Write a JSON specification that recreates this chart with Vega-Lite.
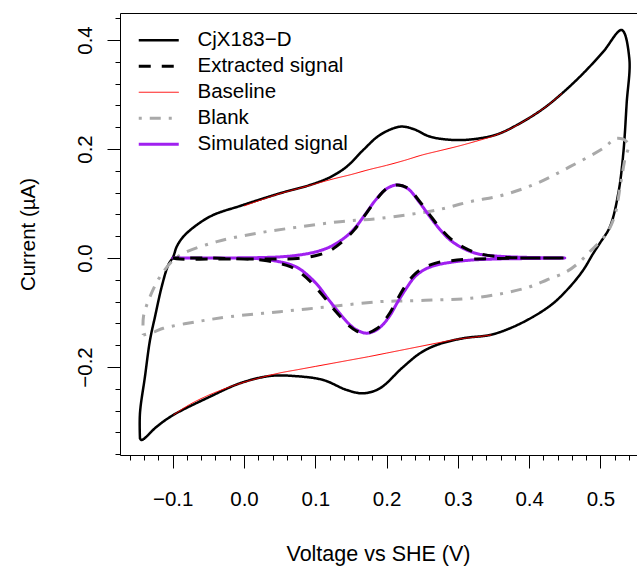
{
  "$schema": "https://vega.github.io/schema/vega-lite/v6.json",
  "width": 517,
  "height": 442,
  "autosize": {"type": "none"},
  "padding": {"left": 120, "top": 13, "right": 0, "bottom": 111},
  "background": "white",
  "config": {
    "font": "Liberation Sans",
    "view": {"stroke": null},
    "axis": {"grid": false, "domainColor": "black", "tickColor": "black", "labelColor": "black", "titleColor": "black", "labelFont": "Liberation Sans", "titleFont": "Liberation Sans", "titleFontWeight": "normal", "domainWidth": 1, "tickWidth": 1}
  },
  "data": {"values": [
    {"s":"CjX183−D","g":"a","i":1,"v":-0.1459,"c":-0.331},
    {"s":"CjX183−D","g":"a","i":2,"v":-0.1459,"c":-0.285},
    {"s":"CjX183−D","g":"a","i":3,"v":-0.1389,"c":-0.2178},
    {"s":"CjX183−D","g":"a","i":4,"v":-0.1318,"c":-0.1505},
    {"s":"CjX183−D","g":"a","i":5,"v":-0.1248,"c":-0.1077},
    {"s":"CjX183−D","g":"a","i":6,"v":-0.1154,"c":-0.0527},
    {"s":"CjX183−D","g":"a","i":7,"v":-0.1062,"c":-0.0128},
    {"s":"CjX183−D","g":"a","i":8,"v":-0.0992,"c":0.0024},
    {"s":"CjX183−D","g":"a","i":9,"v":-0.0944,"c":0.0207},
    {"s":"CjX183−D","g":"a","i":10,"v":-0.0851,"c":0.0391},
    {"s":"CjX183−D","g":"a","i":11,"v":-0.0663,"c":0.0606},
    {"s":"CjX183−D","g":"a","i":12,"v":-0.0431,"c":0.0789},
    {"s":"CjX183−D","g":"a","i":13,"v":-0.0056,"c":0.0954},
    {"s":"CjX183−D","g":"a","i":14,"v":0.0505,"c":0.1187},
    {"s":"CjX183−D","g":"a","i":15,"v":0.0926,"c":0.1339},
    {"s":"CjX183−D","g":"a","i":16,"v":0.1206,"c":0.1481},
    {"s":"CjX183−D","g":"a","i":17,"v":0.144,"c":0.1675},
    {"s":"CjX183−D","g":"a","i":18,"v":0.1673,"c":0.1982},
    {"s":"CjX183−D","g":"a","i":19,"v":0.1907,"c":0.2257},
    {"s":"CjX183−D","g":"a","i":20,"v":0.2188,"c":0.2409},
    {"s":"CjX183−D","g":"a","i":21,"v":0.2374,"c":0.2367},
    {"s":"CjX183−D","g":"a","i":22,"v":0.2609,"c":0.2226},
    {"s":"CjX183−D","g":"a","i":23,"v":0.2935,"c":0.2165},
    {"s":"CjX183−D","g":"a","i":24,"v":0.3216,"c":0.218},
    {"s":"CjX183−D","g":"a","i":25,"v":0.3544,"c":0.2265},
    {"s":"CjX183−D","g":"a","i":26,"v":0.3871,"c":0.2471},
    {"s":"CjX183−D","g":"a","i":27,"v":0.4198,"c":0.274},
    {"s":"CjX183−D","g":"a","i":28,"v":0.4478,"c":0.304},
    {"s":"CjX183−D","g":"a","i":29,"v":0.4759,"c":0.3389},
    {"s":"CjX183−D","g":"a","i":30,"v":0.5039,"c":0.3785},
    {"s":"CjX183−D","g":"a","i":31,"v":0.5297,"c":0.4183},
    {"s":"CjX183−D","g":"a","i":32,"v":0.5404,"c":0.3664},
    {"s":"CjX183−D","g":"a","i":33,"v":0.5367,"c":0.2839},
    {"s":"CjX183−D","g":"a","i":34,"v":0.532,"c":0.1921},
    {"s":"CjX183−D","g":"a","i":35,"v":0.525,"c":0.1187},
    {"s":"CjX183−D","g":"a","i":36,"v":0.5133,"c":0.0574},
    {"s":"CjX183−D","g":"a","i":37,"v":0.4993,"c":0.0275},
    {"s":"CjX183−D","g":"a","i":38,"v":0.4899,"c":0.0086},
    {"s":"CjX183−D","g":"a","i":39,"v":0.4759,"c":-0.022},
    {"s":"CjX183−D","g":"a","i":40,"v":0.4572,"c":-0.0527},
    {"s":"CjX183−D","g":"a","i":41,"v":0.4338,"c":-0.0831},
    {"s":"CjX183−D","g":"a","i":42,"v":0.4058,"c":-0.1077},
    {"s":"CjX183−D","g":"a","i":43,"v":0.3731,"c":-0.129},
    {"s":"CjX183−D","g":"a","i":44,"v":0.345,"c":-0.1413},
    {"s":"CjX183−D","g":"a","i":45,"v":0.3076,"c":-0.1473},
    {"s":"CjX183−D","g":"a","i":46,"v":0.2703,"c":-0.1596},
    {"s":"CjX183−D","g":"a","i":47,"v":0.2468,"c":-0.1749},
    {"s":"CjX183−D","g":"a","i":48,"v":0.2212,"c":-0.2024},
    {"s":"CjX183−D","g":"a","i":49,"v":0.1907,"c":-0.2391},
    {"s":"CjX183−D","g":"a","i":50,"v":0.1673,"c":-0.2483},
    {"s":"CjX183−D","g":"a","i":51,"v":0.144,"c":-0.2422},
    {"s":"CjX183−D","g":"a","i":52,"v":0.1112,"c":-0.2239},
    {"s":"CjX183−D","g":"a","i":53,"v":0.0691,"c":-0.2165},
    {"s":"CjX183−D","g":"a","i":54,"v":0.0365,"c":-0.2165},
    {"s":"CjX183−D","g":"a","i":55,"v":-0.0056,"c":-0.2299},
    {"s":"CjX183−D","g":"a","i":56,"v":-0.0477,"c":-0.2545},
    {"s":"CjX183−D","g":"a","i":57,"v":-0.0992,"c":-0.2881},
    {"s":"CjX183−D","g":"a","i":58,"v":-0.1224,"c":-0.3095},
    {"s":"CjX183−D","g":"a","i":59,"v":-0.1435,"c":-0.334},
    {"s":"CjX183−D","g":"a","i":60,"v":-0.1459,"c":-0.331},

    {"s":"Blank","g":"a","i":1,"v":-0.1412,"c":-0.1413},
    {"s":"Blank","g":"a","i":2,"v":-0.1248,"c":-0.135},
    {"s":"Blank","g":"a","i":3,"v":-0.1132,"c":-0.129},
    {"s":"Blank","g":"a","i":4,"v":-0.0663,"c":-0.1169},
    {"s":"Blank","g":"a","i":5,"v":-0.0196,"c":-0.1077},
    {"s":"Blank","g":"a","i":6,"v":0.0505,"c":-0.0985},
    {"s":"Blank","g":"a","i":7,"v":0.1206,"c":-0.0893},
    {"s":"Blank","g":"a","i":8,"v":0.1907,"c":-0.08},
    {"s":"Blank","g":"a","i":9,"v":0.2234,"c":-0.0789},
    {"s":"Blank","g":"a","i":10,"v":0.2703,"c":-0.077},
    {"s":"Blank","g":"a","i":11,"v":0.317,"c":-0.074},
    {"s":"Blank","g":"a","i":12,"v":0.3637,"c":-0.0648},
    {"s":"Blank","g":"a","i":13,"v":0.4011,"c":-0.0527},
    {"s":"Blank","g":"a","i":14,"v":0.4245,"c":-0.0404},
    {"s":"Blank","g":"a","i":15,"v":0.4526,"c":-0.025},
    {"s":"Blank","g":"a","i":16,"v":0.4712,"c":-0.0068},
    {"s":"Blank","g":"a","i":17,"v":0.4853,"c":0.012},
    {"s":"Blank","g":"a","i":18,"v":0.4993,"c":0.03},
    {"s":"Blank","g":"a","i":19,"v":0.511,"c":0.05},
    {"s":"Blank","g":"a","i":20,"v":0.5205,"c":0.08},
    {"s":"Blank","g":"a","i":21,"v":0.5275,"c":0.13},
    {"s":"Blank","g":"a","i":22,"v":0.534,"c":0.18},
    {"s":"Blank","g":"a","i":23,"v":0.539,"c":0.21},
    {"s":"Blank","g":"a","i":24,"v":0.5226,"c":0.2196},
    {"s":"Blank","g":"a","i":25,"v":0.5039,"c":0.2013},
    {"s":"Blank","g":"a","i":26,"v":0.4572,"c":0.1675},
    {"s":"Blank","g":"a","i":27,"v":0.4105,"c":0.137},
    {"s":"Blank","g":"a","i":28,"v":0.3637,"c":0.1156},
    {"s":"Blank","g":"a","i":29,"v":0.317,"c":0.1033},
    {"s":"Blank","g":"a","i":30,"v":0.2703,"c":0.088},
    {"s":"Blank","g":"a","i":31,"v":0.1907,"c":0.0728},
    {"s":"Blank","g":"a","i":32,"v":0.1346,"c":0.0666},
    {"s":"Blank","g":"a","i":33,"v":0.0739,"c":0.0563},
    {"s":"Blank","g":"a","i":34,"v":0.0178,"c":0.0453},
    {"s":"Blank","g":"a","i":35,"v":-0.038,"c":0.03},
    {"s":"Blank","g":"a","i":36,"v":-0.085,"c":0.0086},
    {"s":"Blank","g":"a","i":37,"v":-0.099,"c":-0.0037},
    {"s":"Blank","g":"a","i":38,"v":-0.1178,"c":-0.0343},
    {"s":"Blank","g":"a","i":39,"v":-0.1318,"c":-0.071},
    {"s":"Blank","g":"a","i":40,"v":-0.141,"c":-0.1077},
    {"s":"Blank","g":"a","i":41,"v":-0.1412,"c":-0.1413},

    {"s":"Baseline","g":"top","i":1,"v":0.0,"c":0.0955},
    {"s":"Baseline","g":"top","i":2,"v":0.025,"c":0.107},
    {"s":"Baseline","g":"top","i":3,"v":0.05,"c":0.118},
    {"s":"Baseline","g":"top","i":4,"v":0.075,"c":0.127},
    {"s":"Baseline","g":"top","i":5,"v":0.1,"c":0.136},
    {"s":"Baseline","g":"top","i":6,"v":0.125,"c":0.145},
    {"s":"Baseline","g":"top","i":7,"v":0.15,"c":0.153},
    {"s":"Baseline","g":"top","i":8,"v":0.175,"c":0.162},
    {"s":"Baseline","g":"top","i":9,"v":0.2,"c":0.170},
    {"s":"Baseline","g":"top","i":10,"v":0.225,"c":0.179},
    {"s":"Baseline","g":"top","i":11,"v":0.25,"c":0.189},
    {"s":"Baseline","g":"top","i":12,"v":0.275,"c":0.197},
    {"s":"Baseline","g":"top","i":13,"v":0.3,"c":0.205},
    {"s":"Baseline","g":"top","i":14,"v":0.325,"c":0.214},
    {"s":"Baseline","g":"top","i":15,"v":0.35,"c":0.224},
    {"s":"Baseline","g":"top","i":16,"v":0.375,"c":0.238},
    {"s":"Baseline","g":"top","i":17,"v":0.4,"c":0.257},
    {"s":"Baseline","g":"top","i":18,"v":0.425,"c":0.279},
    {"s":"Baseline","g":"top","i":19,"v":0.446,"c":0.302},
    {"s":"Baseline","g":"bot","i":1,"v":-0.099,"c":-0.288},
    {"s":"Baseline","g":"bot","i":2,"v":-0.075,"c":-0.268},
    {"s":"Baseline","g":"bot","i":3,"v":-0.05,"c":-0.252},
    {"s":"Baseline","g":"bot","i":4,"v":-0.025,"c":-0.239},
    {"s":"Baseline","g":"bot","i":5,"v":0.0,"c":-0.228},
    {"s":"Baseline","g":"bot","i":6,"v":0.025,"c":-0.219},
    {"s":"Baseline","g":"bot","i":7,"v":0.05,"c":-0.211},
    {"s":"Baseline","g":"bot","i":8,"v":0.075,"c":-0.205},
    {"s":"Baseline","g":"bot","i":9,"v":0.1,"c":-0.199},
    {"s":"Baseline","g":"bot","i":10,"v":0.125,"c":-0.193},
    {"s":"Baseline","g":"bot","i":11,"v":0.15,"c":-0.187},
    {"s":"Baseline","g":"bot","i":12,"v":0.175,"c":-0.181},
    {"s":"Baseline","g":"bot","i":13,"v":0.2,"c":-0.1745},
    {"s":"Baseline","g":"bot","i":14,"v":0.225,"c":-0.168},
    {"s":"Baseline","g":"bot","i":15,"v":0.25,"c":-0.1615},
    {"s":"Baseline","g":"bot","i":16,"v":0.275,"c":-0.155},
    {"s":"Baseline","g":"bot","i":17,"v":0.3,"c":-0.149},
    {"s":"Baseline","g":"bot","i":18,"v":0.325,"c":-0.145},
    {"s":"Baseline","g":"bot","i":19,"v":0.347,"c":-0.1413},

    {"s":"Simulated signal","g":"a","i":1,"v":-0.1,"c":0},
    {"s":"Simulated signal","g":"a","i":2,"v":-0.05,"c":0},
    {"s":"Simulated signal","g":"a","i":3,"v":0.0,"c":0.0003},
    {"s":"Simulated signal","g":"a","i":4,"v":0.03,"c":0.001},
    {"s":"Simulated signal","g":"a","i":5,"v":0.05,"c":0.002},
    {"s":"Simulated signal","g":"a","i":6,"v":0.075,"c":0.005},
    {"s":"Simulated signal","g":"a","i":7,"v":0.1,"c":0.011},
    {"s":"Simulated signal","g":"a","i":8,"v":0.12,"c":0.02},
    {"s":"Simulated signal","g":"a","i":9,"v":0.14,"c":0.036},
    {"s":"Simulated signal","g":"a","i":10,"v":0.155,"c":0.054},
    {"s":"Simulated signal","g":"a","i":11,"v":0.17,"c":0.08},
    {"s":"Simulated signal","g":"a","i":12,"v":0.185,"c":0.107},
    {"s":"Simulated signal","g":"a","i":13,"v":0.2,"c":0.127},
    {"s":"Simulated signal","g":"a","i":14,"v":0.215,"c":0.134},
    {"s":"Simulated signal","g":"a","i":15,"v":0.23,"c":0.127},
    {"s":"Simulated signal","g":"a","i":16,"v":0.245,"c":0.104},
    {"s":"Simulated signal","g":"a","i":17,"v":0.26,"c":0.077},
    {"s":"Simulated signal","g":"a","i":18,"v":0.275,"c":0.052},
    {"s":"Simulated signal","g":"a","i":19,"v":0.29,"c":0.032},
    {"s":"Simulated signal","g":"a","i":20,"v":0.31,"c":0.016},
    {"s":"Simulated signal","g":"a","i":21,"v":0.33,"c":0.007},
    {"s":"Simulated signal","g":"a","i":22,"v":0.36,"c":0.003},
    {"s":"Simulated signal","g":"a","i":23,"v":0.4,"c":0.001},
    {"s":"Simulated signal","g":"a","i":24,"v":0.45,"c":0},
    {"s":"Simulated signal","g":"a","i":25,"v":0.4,"c":-0.001},
    {"s":"Simulated signal","g":"a","i":26,"v":0.35,"c":-0.002},
    {"s":"Simulated signal","g":"a","i":27,"v":0.317,"c":-0.004},
    {"s":"Simulated signal","g":"a","i":28,"v":0.29,"c":-0.008},
    {"s":"Simulated signal","g":"a","i":29,"v":0.27,"c":-0.013},
    {"s":"Simulated signal","g":"a","i":30,"v":0.255,"c":-0.02},
    {"s":"Simulated signal","g":"a","i":31,"v":0.24,"c":-0.034},
    {"s":"Simulated signal","g":"a","i":32,"v":0.228,"c":-0.055},
    {"s":"Simulated signal","g":"a","i":33,"v":0.215,"c":-0.082},
    {"s":"Simulated signal","g":"a","i":34,"v":0.205,"c":-0.105},
    {"s":"Simulated signal","g":"a","i":35,"v":0.195,"c":-0.122},
    {"s":"Simulated signal","g":"a","i":36,"v":0.186,"c":-0.132},
    {"s":"Simulated signal","g":"a","i":37,"v":0.172,"c":-0.138},
    {"s":"Simulated signal","g":"a","i":38,"v":0.158,"c":-0.132},
    {"s":"Simulated signal","g":"a","i":39,"v":0.148,"c":-0.122},
    {"s":"Simulated signal","g":"a","i":40,"v":0.13,"c":-0.095},
    {"s":"Simulated signal","g":"a","i":41,"v":0.115,"c":-0.07},
    {"s":"Simulated signal","g":"a","i":42,"v":0.106,"c":-0.054},
    {"s":"Simulated signal","g":"a","i":43,"v":0.093,"c":-0.036},
    {"s":"Simulated signal","g":"a","i":44,"v":0.078,"c":-0.02},
    {"s":"Simulated signal","g":"a","i":45,"v":0.065,"c":-0.012},
    {"s":"Simulated signal","g":"a","i":46,"v":0.05,"c":-0.007},
    {"s":"Simulated signal","g":"a","i":47,"v":0.027,"c":-0.002},
    {"s":"Simulated signal","g":"a","i":48,"v":0.0,"c":-0.0005},
    {"s":"Simulated signal","g":"a","i":49,"v":-0.05,"c":0},
    {"s":"Simulated signal","g":"a","i":50,"v":-0.1,"c":0},

    {"s":"Extracted signal","g":"a","i":1,"v":-0.1,"c":0.0},
    {"s":"Extracted signal","g":"a","i":2,"v":-0.09,"c":-0.002},
    {"s":"Extracted signal","g":"a","i":3,"v":-0.05,"c":-0.002},
    {"s":"Extracted signal","g":"a","i":4,"v":0.0,"c":-0.002},
    {"s":"Extracted signal","g":"a","i":5,"v":0.03,"c":-0.002},
    {"s":"Extracted signal","g":"a","i":6,"v":0.05,"c":-0.002},
    {"s":"Extracted signal","g":"a","i":7,"v":0.075,"c":-0.001},
    {"s":"Extracted signal","g":"a","i":8,"v":0.1,"c":0.004},
    {"s":"Extracted signal","g":"a","i":9,"v":0.12,"c":0.013},
    {"s":"Extracted signal","g":"a","i":10,"v":0.14,"c":0.032},
    {"s":"Extracted signal","g":"a","i":11,"v":0.155,"c":0.052},
    {"s":"Extracted signal","g":"a","i":12,"v":0.17,"c":0.079},
    {"s":"Extracted signal","g":"a","i":13,"v":0.185,"c":0.106},
    {"s":"Extracted signal","g":"a","i":14,"v":0.2,"c":0.127},
    {"s":"Extracted signal","g":"a","i":15,"v":0.215,"c":0.134},
    {"s":"Extracted signal","g":"a","i":16,"v":0.23,"c":0.128},
    {"s":"Extracted signal","g":"a","i":17,"v":0.245,"c":0.106},
    {"s":"Extracted signal","g":"a","i":18,"v":0.26,"c":0.08},
    {"s":"Extracted signal","g":"a","i":19,"v":0.275,"c":0.055},
    {"s":"Extracted signal","g":"a","i":20,"v":0.29,"c":0.035},
    {"s":"Extracted signal","g":"a","i":21,"v":0.31,"c":0.018},
    {"s":"Extracted signal","g":"a","i":22,"v":0.33,"c":0.008},
    {"s":"Extracted signal","g":"a","i":23,"v":0.36,"c":0.002},
    {"s":"Extracted signal","g":"a","i":24,"v":0.4,"c":0.0},
    {"s":"Extracted signal","g":"a","i":25,"v":0.45,"c":0.0},
    {"s":"Extracted signal","g":"a","i":26,"v":0.4,"c":0.0},
    {"s":"Extracted signal","g":"a","i":27,"v":0.35,"c":-0.001},
    {"s":"Extracted signal","g":"a","i":28,"v":0.317,"c":-0.002},
    {"s":"Extracted signal","g":"a","i":29,"v":0.29,"c":-0.005},
    {"s":"Extracted signal","g":"a","i":30,"v":0.27,"c":-0.009},
    {"s":"Extracted signal","g":"a","i":31,"v":0.255,"c":-0.016},
    {"s":"Extracted signal","g":"a","i":32,"v":0.24,"c":-0.029},
    {"s":"Extracted signal","g":"a","i":33,"v":0.228,"c":-0.048},
    {"s":"Extracted signal","g":"a","i":34,"v":0.215,"c":-0.076},
    {"s":"Extracted signal","g":"a","i":35,"v":0.205,"c":-0.1},
    {"s":"Extracted signal","g":"a","i":36,"v":0.195,"c":-0.118},
    {"s":"Extracted signal","g":"a","i":37,"v":0.186,"c":-0.13},
    {"s":"Extracted signal","g":"a","i":38,"v":0.172,"c":-0.138},
    {"s":"Extracted signal","g":"a","i":39,"v":0.158,"c":-0.134},
    {"s":"Extracted signal","g":"a","i":40,"v":0.148,"c":-0.125},
    {"s":"Extracted signal","g":"a","i":41,"v":0.13,"c":-0.1},
    {"s":"Extracted signal","g":"a","i":42,"v":0.115,"c":-0.076},
    {"s":"Extracted signal","g":"a","i":43,"v":0.106,"c":-0.062},
    {"s":"Extracted signal","g":"a","i":44,"v":0.093,"c":-0.043},
    {"s":"Extracted signal","g":"a","i":45,"v":0.078,"c":-0.026},
    {"s":"Extracted signal","g":"a","i":46,"v":0.065,"c":-0.016},
    {"s":"Extracted signal","g":"a","i":47,"v":0.05,"c":-0.01},
    {"s":"Extracted signal","g":"a","i":48,"v":0.027,"c":-0.004},
    {"s":"Extracted signal","g":"a","i":49,"v":0.0,"c":-0.002},
    {"s":"Extracted signal","g":"a","i":50,"v":-0.05,"c":0.0},
    {"s":"Extracted signal","g":"a","i":51,"v":-0.1,"c":0.0}
  ]},
  "encoding": {
    "color": {
      "field": "s", "type": "nominal",
      "scale": {"domain": ["CjX183−D", "Extracted signal", "Baseline", "Blank", "Simulated signal"], "range": ["#000000", "#000000", "#FF0000", "#A9A9A9", "#A020F0"]},
      "legend": {
        "orient": "none", "legendX": 28.5, "legendY": 17, "title": null,
        "symbolType": "M-2,0H2", "symbolSize": 400, "symbolStrokeWidth": 3,
        "labelFont": "Liberation Sans", "labelFontSize": 20.5, "labelColor": "black",
        "labelOffset": 28.5, "rowPadding": 5, "padding": 0, "labelLimit": 400,
        "encode": {"symbols": {"update": {"strokeWidth": {"signal": "datum.value === 'Baseline' ? 1 : (datum.value === 'CjX183−D' ? 2.5 : 3)"}}}}
      }
    },
    "strokeDash": {
      "field": "s", "type": "nominal",
      "scale": {"domain": ["CjX183−D", "Extracted signal", "Baseline", "Blank", "Simulated signal"], "range": [[1, 0], [12, 11], [1, 0], [3, 8, 11, 8], [1, 0]]}
    },
    "detail": {"field": "g", "type": "nominal"},
    "order": {"field": "i", "type": "quantitative"}
  },
  "resolve": {"axis": {"x": "independent", "y": "independent"}},
  "layer": [
    {
      "transform": [{"filter": "datum.s === 'CjX183−D'"}],
      "mark": {"type": "line", "strokeWidth": 2.5, "interpolate": "catmull-rom", "strokeJoin": "round", "strokeCap": "round"},
      "encoding": {
        "x": {"field": "v", "type": "quantitative", "scale": {"domain": [-0.1739, 0.5512], "nice": false, "zero": false},
          "axis": {"orient": "bottom", "values": [-0.1, 0, 0.1, 0.2, 0.3, 0.4, 0.5], "tickSize": 13, "labelExpr": "format(datum.value, '.1f')", "labelFontSize": 20.5, "labelBaseline": "alphabetic", "labelPadding": 37, "labelFlush": false, "labelOverlap": false,
            "title": "Voltage vs SHE (V)", "titleFontSize": 21.5, "titleX": 258, "titleY": 105, "titleAnchor": "middle", "titleAlign": "center", "titleBaseline": "alphabetic"}},
        "y": {"field": "c", "type": "quantitative", "scale": {"domain": [-0.3615, 0.4495], "nice": false, "zero": false},
          "axis": {"orient": "left", "values": [-0.2, 0, 0.2, 0.4], "tickSize": 13, "labelExpr": "format(datum.value, '.1f')", "labelFontSize": 20.5, "labelAngle": 270, "labelAlign": "center", "labelBaseline": "alphabetic", "labelPadding": 16, "labelFlush": false, "labelOverlap": false,
            "title": "Current (µA)", "titleFontSize": 20.5, "titleAngle": 270, "titleX": -92, "titleY": 221, "titleAlign": "center", "titleBaseline": "middle", "titleAnchor": "middle"}}
      }
    },
    {
      "transform": [{"filter": "datum.s === 'Blank'"}],
      "mark": {"type": "line", "strokeWidth": 3, "interpolate": "catmull-rom", "strokeCap": "butt"},
      "encoding": {
        "x": {"field": "v", "type": "quantitative",
          "axis": {"orient": "bottom", "values": [-0.16, -0.14, -0.12, -0.08, -0.06, -0.04, -0.02, 0.02, 0.04, 0.06, 0.08, 0.12, 0.14, 0.16, 0.18, 0.22, 0.24, 0.26, 0.28, 0.32, 0.34, 0.36, 0.38, 0.42, 0.44, 0.46, 0.48, 0.52, 0.54], "tickSize": 5, "labels": false, "domain": false, "title": null}},
        "y": {"field": "c", "type": "quantitative",
          "axis": {"orient": "left", "values": [-0.36, -0.32, -0.28, -0.24, -0.16, -0.12, -0.08, -0.04, 0.04, 0.08, 0.12, 0.16, 0.24, 0.28, 0.32, 0.36, 0.44], "tickSize": 5, "labels": false, "domain": false, "title": null}}
      }
    },
    {
      "transform": [{"filter": "datum.s === 'Baseline'"}],
      "mark": {"type": "line", "strokeWidth": 1, "interpolate": "catmull-rom"},
      "encoding": {
        "x": {"field": "v", "type": "quantitative",
          "axis": {"orient": "top", "ticks": false, "labels": false, "domain": true, "title": null}},
        "y": {"field": "c", "type": "quantitative", "axis": null}
      }
    },
    {
      "transform": [{"filter": "datum.s === 'Simulated signal'"}],
      "mark": {"type": "line", "strokeWidth": 3, "interpolate": "catmull-rom", "strokeCap": "round"},
      "encoding": {
        "x": {"field": "v", "type": "quantitative", "axis": null},
        "y": {"field": "c", "type": "quantitative", "axis": null}
      }
    },
    {
      "transform": [{"filter": "datum.s === 'Extracted signal'"}],
      "mark": {"type": "line", "strokeWidth": 3, "interpolate": "catmull-rom", "strokeCap": "butt"},
      "encoding": {
        "x": {"field": "v", "type": "quantitative", "axis": null},
        "y": {"field": "c", "type": "quantitative", "axis": null}
      }
    }
  ]
}
